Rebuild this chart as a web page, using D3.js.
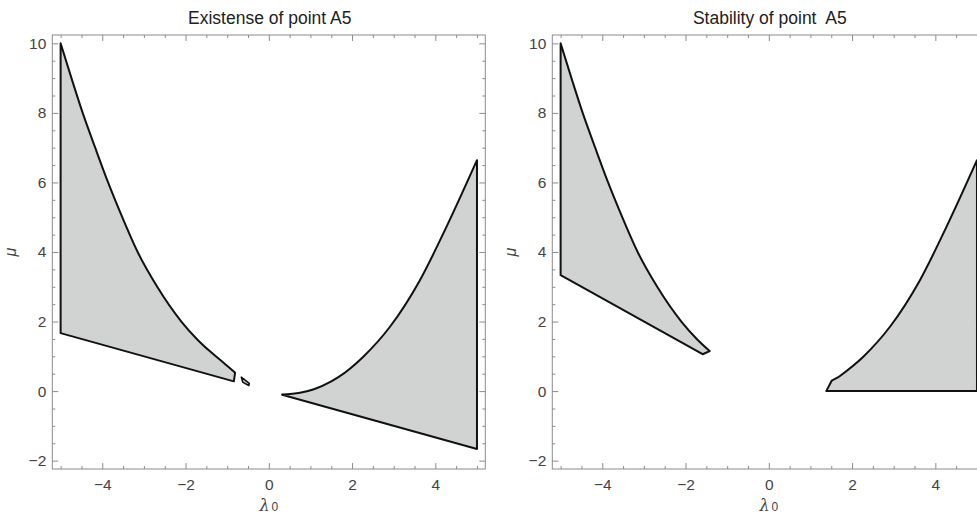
<!DOCTYPE html>
<html>
<head>
<meta charset="utf-8">
<script src="https://cdn.jsdelivr.net/npm/d3@7"></script>
<style>
  html, body { margin: 0; padding: 0; background: #fff; }
  svg { display: block; }
  text { font-family: "Liberation Sans", Arial, sans-serif; white-space: pre; }
</style>
</head>
<body>
<svg id="chart" width="977" height="516"></svg>
<script>
// ---------- data (λ0, μ) ----------
const panelTitles = ["Existense of point A5", "Stability of point  A5"];
const lambdaTicks = [-4, -2, 0, 2, 4];
const muTicks = [-2, 0, 2, 4, 6, 8, 10];

const existUpperCurve = [[-5,10],[-4.74,9],[-4.47,8],[-4.17,7],[-3.86,6],[-3.52,5],[-3.15,4],[-2.68,3],[-2.1,2],[-1.73,1.5],[-1.42,1.15],[-1.1,0.83],[-0.81,0.53]];
const existLeftTail = [[-0.84,0.28],[-5,1.667]];
const existDiamond = [[-0.66,0.40],[-0.47,0.22],[-0.48,0.16],[-0.62,0.25]];
const existRightCurve = [[0.32,-0.1],[0.75,-0.05],[1.1,0.06],[1.5,0.28],[1.67,0.40],[2.27,0.99],[2.91,1.85],[3.63,3.19],[4.27,4.73],[5,6.64]];
const existRightTail = [[5,-1.667],[0.32,-0.107]];

const stabUpperCurve = [[-5,10],[-4.74,9],[-4.47,8],[-4.17,7],[-3.86,6],[-3.52,5],[-3.15,4],[-2.68,3],[-2.1,2],[-1.73,1.5],[-1.42,1.15]];
const stabLeftTail = [[-1.59,1.06],[-5,3.333]];
const stabRightHead = [[1.38,0],[1.51,0.3]];
const stabRightCurve = [[1.67,0.40],[2.27,0.99],[2.91,1.85],[3.63,3.19],[4.27,4.73],[5,6.64]];
const stabRightTail = [[5,0]];

// ---------- layout ----------
const svg = d3.select("#chart");
const yScale = d3.scaleLinear().domain([-2.24, 10.24]).range([469, 35]);
const panels = [
  { x0: 52.3, title: panelTitles[0] },
  { x0: 552.3, title: panelTitles[1] }
];
const pw = 433;

const frameColor = "#8c8c8c";
const labelColor = "#444";

function drawPanel(p, shapes) {
  const x = d3.scaleLinear().domain([-5.2, 5.2]).range([p.x0, p.x0 + pw]);
  const g = svg.append("g");
  const y0 = yScale.range()[1], y1 = yScale.range()[0];

  const line = d3.line().x(d => x(d[0])).y(d => yScale(d[1]));
  const curved = d3.line().x(d => x(d[0])).y(d => yScale(d[1])).curve(d3.curveMonotoneX);
  const toL = s => "L" + s.slice(1);

  shapes(g, x, line, curved, toL);

  g.append("rect").attr("x", p.x0).attr("y", y0).attr("width", pw).attr("height", y1 - y0)
    .attr("fill", "none").attr("stroke", frameColor).attr("stroke-width", 1);

  const minorX = d3.range(-5, 5.01, 0.5).filter(v => !lambdaTicks.includes(v));
  const minorY = d3.range(-2, 10.01, 0.5).filter(v => !muTicks.includes(v));
  const fmt = v => (v < 0 ? "\u2212" + Math.abs(v) : String(v));

  function styleAxis(sel) {
    sel.select(".domain").remove();
    sel.selectAll("line").attr("stroke", frameColor);
    sel.selectAll("text").attr("fill", labelColor).attr("font-size", "15.5px")
       .attr("font-family", "'Liberation Sans', Arial, sans-serif");
  }

  g.append("g").attr("transform", `translate(0,${y1})`)
    .call(d3.axisBottom(x).tickValues(lambdaTicks).tickFormat(fmt).tickSizeInner(-6).tickSizeOuter(0).tickPadding(10))
    .call(styleAxis);
  g.append("g").attr("transform", `translate(0,${y1})`)
    .call(d3.axisBottom(x).tickValues(minorX).tickFormat("").tickSizeInner(-3).tickSizeOuter(0))
    .call(styleAxis);
  g.append("g").attr("transform", `translate(0,${y0})`)
    .call(d3.axisTop(x).tickValues(lambdaTicks).tickFormat("").tickSizeInner(-6).tickSizeOuter(0))
    .call(styleAxis);
  g.append("g").attr("transform", `translate(0,${y0})`)
    .call(d3.axisTop(x).tickValues(minorX).tickFormat("").tickSizeInner(-3).tickSizeOuter(0))
    .call(styleAxis);
  g.append("g").attr("transform", `translate(${p.x0},0)`)
    .call(d3.axisLeft(yScale).tickValues(muTicks).tickFormat(fmt).tickSizeInner(-6).tickSizeOuter(0).tickPadding(6))
    .call(styleAxis);
  g.append("g").attr("transform", `translate(${p.x0},0)`)
    .call(d3.axisLeft(yScale).tickValues(minorY).tickFormat("").tickSizeInner(-3).tickSizeOuter(0))
    .call(styleAxis);
  g.append("g").attr("transform", `translate(${p.x0 + pw},0)`)
    .call(d3.axisRight(yScale).tickValues(muTicks).tickFormat("").tickSizeInner(-6).tickSizeOuter(0))
    .call(styleAxis);
  g.append("g").attr("transform", `translate(${p.x0 + pw},0)`)
    .call(d3.axisRight(yScale).tickValues(minorY).tickFormat("").tickSizeInner(-3).tickSizeOuter(0))
    .call(styleAxis);

  g.append("text").attr("x", x(0) + 1).attr("y", 24).attr("text-anchor", "middle")
    .attr("font-size", "17.5px").attr("fill", "#222").text(p.title);

  const xl = g.append("text").attr("x", x(0)).attr("y", 511).attr("text-anchor", "middle")
    .attr("fill", labelColor).attr("font-size", "16px");
  xl.append("tspan").attr("font-style", "italic").attr("font-family", "'DejaVu Serif', serif").text("\u03bb");
  xl.append("tspan").attr("font-size", "12px").attr("dx", 2).text("0");

  g.append("text").attr("transform", `translate(${p.x0 - 36},${yScale(4)}) rotate(-90)`)
    .attr("text-anchor", "middle").attr("fill", labelColor).attr("font-size", "16px")
    .attr("font-style", "italic").attr("font-family", "'DejaVu Serif', serif").text("\u03bc");
}

const fill = "#d1d3d3", stroke = "#111", sw = 2;

drawPanel(panels[0], (g, x, line, curved, toL) => {
  const p1 = curved(existUpperCurve) + toL(line(existLeftTail)) + "Z";
  const p3 = curved(existRightCurve) + toL(line(existRightTail)) + "Z";
  [p1, p3].forEach(d => g.append("path").attr("d", d).attr("fill", fill)
    .attr("stroke", stroke).attr("stroke-width", sw).attr("stroke-linejoin", "round"));
  g.append("path").attr("d", line(existDiamond) + "Z").attr("fill", fill)
    .attr("stroke", stroke).attr("stroke-width", 1.6).attr("stroke-linejoin", "round");
});

drawPanel(panels[1], (g, x, line, curved, toL) => {
  const p1 = curved(stabUpperCurve) + toL(line(stabLeftTail)) + "Z";
  const p2 = line(stabRightHead) + toL(curved(stabRightCurve)) + toL(line(stabRightTail)) + "Z";
  [p1, p2].forEach(d => g.append("path").attr("d", d).attr("fill", fill)
    .attr("stroke", stroke).attr("stroke-width", sw).attr("stroke-linejoin", "round"));
});
</script>
</body>
</html>
